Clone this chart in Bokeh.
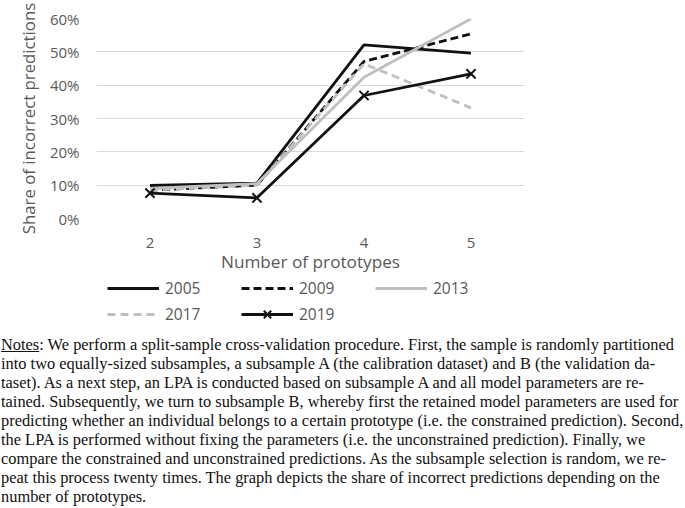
from bokeh.plotting import figure
from bokeh.models import (FactorRange, Range1d, FixedTicker, NumeralTickFormatter,
                          Legend, LegendItem, Div)
from bokeh.layouts import column
from bokeh.embed import file_html
from bokeh.resources import INLINE

# ---- data ----
prototypes = ["2", "3", "4", "5"]
s2005 = [0.099, 0.106, 0.521, 0.496]
s2009 = [0.085, 0.100, 0.471, 0.554]
s2013 = [0.090, 0.105, 0.424, 0.599]
s2017 = [0.085, 0.100, 0.464, 0.332]
s2019 = [0.076, 0.062, 0.369, 0.434]
y_ticks = [0, 0.1, 0.2, 0.3, 0.4, 0.5, 0.6]
series_labels = ["2005", "2009", "2013", "2017", "2019"]

notes_lines = [
    "<u>Notes</u>: We perform a split-sample cross-validation procedure. First, the sample is randomly partitioned",
    "into two equally-sized subsamples, a subsample A (the calibration dataset) and B (the validation da-",
    "taset). As a next step, an LPA is conducted based on subsample A and all model parameters are re-",
    "tained. Subsequently, we turn to subsample B, whereby first the retained model parameters are used for",
    "predicting whether an individual belongs to a certain prototype (i.e. the constrained prediction). Second,",
    "the LPA is performed without fixing the parameters (i.e. the unconstrained prediction). Finally, we",
    "compare the constrained and unconstrained predictions. As the subsample selection is random, we re-",
    "peat this process twenty times. The graph depicts the share of incorrect predictions depending on the",
    "number of prototypes.",
]

GRAY_TXT = "#595959"
FONT = "Open Sans"
BLACK = "#111111"
LGRAY = "#bfbfbf"
LW = 2.8
W = 685
series = [s2005, s2009, s2013, s2017, s2019]
styles = [
    dict(line_color=BLACK, line_dash="solid"),
    dict(line_color=BLACK, line_dash="8 4"),
    dict(line_color=LGRAY, line_dash="solid"),
    dict(line_color=LGRAY, line_dash="8 5"),
    dict(line_color=BLACK, line_dash="solid"),
]

# ---------------- main chart ----------------
xr = FactorRange(factors=prototypes)
p = figure(width=W, height=275, x_range=xr,
           y_range=Range1d(0, 0.6), output_backend="svg", toolbar_location=None,
           min_border_left=96, min_border_right=W - 524, min_border_top=18,
           min_border_bottom=57)
p.outline_line_color = None
p.xgrid.grid_line_color = None
p.ygrid.grid_line_color = "#d9d9d9"
p.ygrid.grid_line_width = 1.2

p.yaxis.ticker = FixedTicker(ticks=y_ticks)
p.yaxis.formatter = NumeralTickFormatter(format="0%")
for ax in (p.xaxis[0], p.yaxis[0]):
    ax.axis_line_color = None
    ax.major_tick_line_color = None
    ax.minor_tick_line_color = None
    ax.major_tick_out = 0
    ax.major_tick_in = 0
    ax.major_label_text_font = FONT
    ax.major_label_text_font_size = "15px"
    ax.major_label_text_color = GRAY_TXT
    ax.axis_label_text_font = FONT
    ax.axis_label_text_color = GRAY_TXT
    ax.axis_label_text_font_style = "normal"

p.yaxis.major_label_standoff = 17
p.yaxis.axis_label = "Share of incorrect predictions"
p.yaxis.axis_label_text_font_size = "16.8px"
p.yaxis.axis_label_standoff = 7
p.xaxis.major_label_standoff = 19
p.xaxis.axis_label = "Number of prototypes"
p.xaxis.axis_label_text_font_size = "17.2px"
p.xaxis.axis_label_standoff = -1

for s, st in zip(series, styles):
    p.line(prototypes, s, line_width=LW, **st)
p.scatter(prototypes, s2019, marker="x", size=13, line_color=BLACK, line_width=2)

# ---------------- legend strip (series drawn out of view, used for legend keys) ----
lg = figure(width=W, height=53, x_range=xr, y_range=Range1d(5, 6),
            output_backend="svg", toolbar_location=None, min_border=0)
lg.axis.visible = False
lg.grid.grid_line_color = None
lg.outline_line_color = None
items = []
for lab, s, st in zip(series_labels, series, styles):
    rs = [lg.line(prototypes, s, line_width=LW, **st)]
    if lab == "2019":
        rs.append(lg.scatter(prototypes, s, marker="x", size=13, line_color=BLACK, line_width=2))
    items.append(LegendItem(label=lab, renderers=rs))

legend = Legend(items=items, orientation="horizontal", ncols=3, location=(11, 1))
legend.border_line_color = None
legend.background_fill_alpha = 0
legend.padding = 0
legend.margin = 0
legend.spacing = 0
legend.glyph_width = 52
legend.glyph_height = 26
legend.label_height = 26
legend.label_width = 76
legend.label_standoff = 6
legend.label_text_font = FONT
legend.label_text_font_size = "15.5px"
legend.label_text_color = GRAY_TXT
lg.add_layout(legend)

# ---------------- notes ----------------
notes_html = ('<div style="padding-top:7px;padding-left:1px;line-height:19px;">'
              + "<br>".join(notes_lines) + "</div>")
notes = Div(text=notes_html, width=W, height=180, margin=0,
            styles={"font-family": "Liberation Serif", "font-size": "16.4px",
                    "color": "#111111", "white-space": "nowrap", "overflow": "hidden"})

layout = column(p, lg, notes, spacing=0)
open("out.html", "w").write(file_html(layout, INLINE))
